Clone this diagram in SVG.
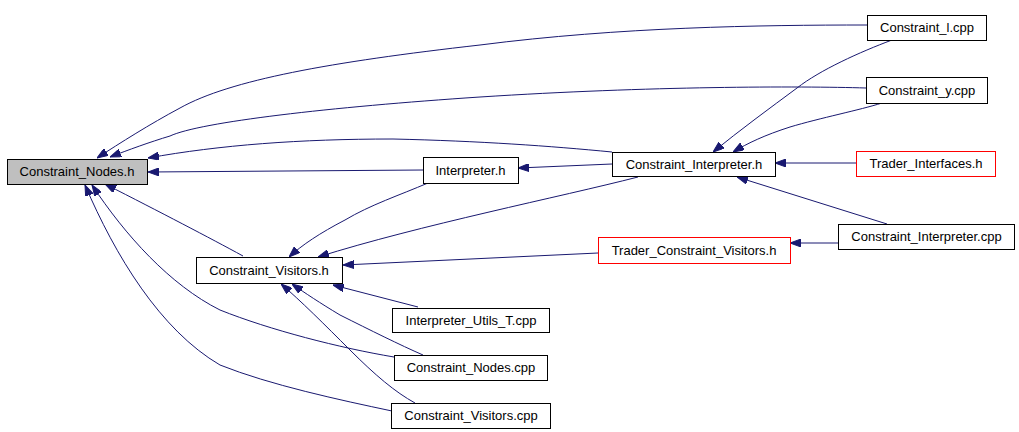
<svg xmlns="http://www.w3.org/2000/svg" width="1019" height="432" viewBox="0 0 1019 432">
<style>
.n rect{fill:#ffffff;stroke:#000000;stroke-width:1}
.n.root rect{fill:#bfbfbf}
.n.red rect{stroke:#ff0000}
.n text{font-family:"Liberation Sans",Arial,sans-serif;font-size:13px;text-anchor:middle;fill:#000000}
.e path{fill:none;stroke:#191970;stroke-width:1;marker-end:url(#ah)}
</style>
<defs>
<marker id="ah" markerUnits="userSpaceOnUse" markerWidth="11" markerHeight="8" viewBox="0 0 11 8" refX="11" refY="4" orient="auto">
<path d="M0,0 L11,4 L0,8 z" fill="#191970" stroke="#191970"/>
</marker>
</defs>
<rect width="1019" height="432" fill="#ffffff"/>
<g id="connectors" class="e">
<path d="M867,25 C760,25 620,27 480,45 C330,62 230,80 180,108 C150,124 120,143 97,158"/>
<path d="M866,88 C800,86 650,86 480,97 C330,107 200,122 170,136 C150,142 128,150 110,157"/>
<path d="M612,152 C550,146 480,141 393,139 C300,139 220,145 148,158"/>
<path d="M423,170 L148,172"/>
<path d="M243,256 C210,238 160,212 105,184"/>
<path d="M394,357 C340,348 270,330 220,310 C170,285 125,235 92,185"/>
<path d="M392,411 C340,400 270,385 220,365 C160,330 115,255 85,185"/>
<path d="M612,164 L518,168"/>
<path d="M892,40 C860,52 820,70 797,88 C770,108 740,130 713,152"/>
<path d="M882,103 C860,110 820,118 790,127 C765,135 748,143 733,152"/>
<path d="M856,163 L775,163"/>
<path d="M887,224 L737,177"/>
<path d="M428,183 C400,195 370,205 345,220 C320,233 302,245 289,257"/>
<path d="M638,177 C560,197 420,225 318,257"/>
<path d="M598,253 L343,265"/>
<path d="M838,243 L790,243"/>
<path d="M418,307 L333,285"/>
<path d="M423,355 C400,345 370,330 340,315 C320,303 305,293 292,284"/>
<path d="M415,403 C395,392 375,375 350,350 C325,325 300,300 281,284"/>
</g>
<g id="node-constraint-nodes-h" class="n root"><rect x="7.5" y="159.5" width="140" height="25"/><text x="77" y="176">Constraint_Nodes.h</text></g>
<g id="node-constraint-visitors-h" class="n"><rect x="196.5" y="257.5" width="146" height="26"/><text x="269" y="275">Constraint_Visitors.h</text></g>
<g id="node-interpreter-h" class="n"><rect x="423.5" y="157.5" width="95" height="26"/><text x="470.5" y="175">Interpreter.h</text></g>
<g id="node-constraint-interpreter-h" class="n"><rect x="612.5" y="152.5" width="163" height="24"/><text x="694" y="169">Constraint_Interpreter.h</text></g>
<g id="node-trader-constraint-visitors-h" class="n red"><rect x="598.5" y="237.5" width="192" height="26"/><text x="694" y="255">Trader_Constraint_Visitors.h</text></g>
<g id="node-constraint-l-cpp" class="n"><rect x="867.5" y="15.5" width="119" height="25"/><text x="927" y="32">Constraint_l.cpp</text></g>
<g id="node-constraint-y-cpp" class="n"><rect x="866.5" y="77.5" width="121" height="26"/><text x="927" y="95">Constraint_y.cpp</text></g>
<g id="node-trader-interfaces-h" class="n red"><rect x="856.5" y="151.5" width="139" height="25"/><text x="926" y="168">Trader_Interfaces.h</text></g>
<g id="node-constraint-interpreter-cpp" class="n"><rect x="838.5" y="224.5" width="176" height="25"/><text x="926.5" y="241">Constraint_Interpreter.cpp</text></g>
<g id="node-interpreter-utils-t-cpp" class="n"><rect x="392.5" y="308.5" width="157" height="24"/><text x="471" y="325">Interpreter_Utils_T.cpp</text></g>
<g id="node-constraint-nodes-cpp" class="n"><rect x="394.5" y="355.5" width="153" height="25"/><text x="471" y="372">Constraint_Nodes.cpp</text></g>
<g id="node-constraint-visitors-cpp" class="n"><rect x="391.5" y="403.5" width="159" height="25"/><text x="471" y="420">Constraint_Visitors.cpp</text></g>
</svg>
